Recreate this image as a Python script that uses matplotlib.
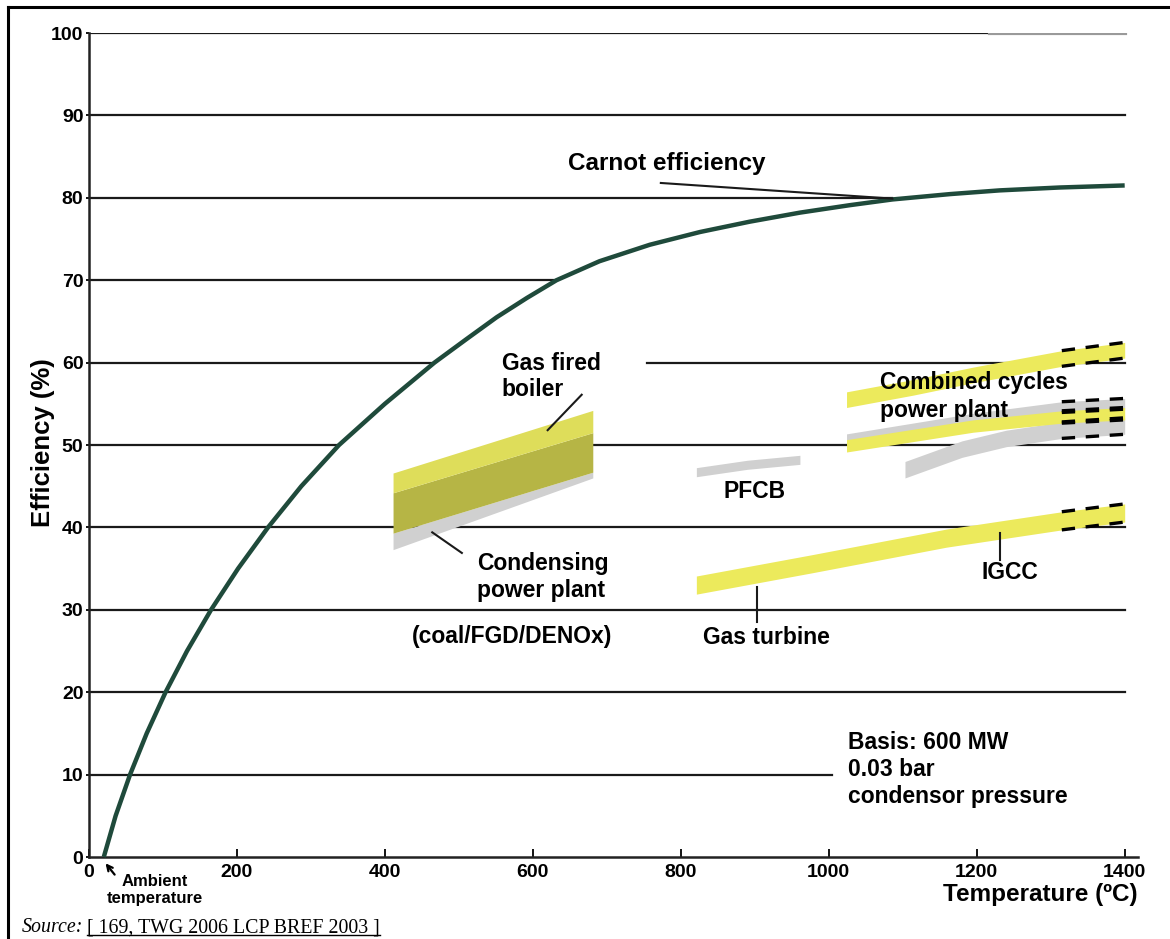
import numpy as np
import matplotlib
matplotlib.use("Agg")
import matplotlib.pyplot as plt
from matplotlib.lines import Line2D

plt.rcParams['font.family'] = ['Liberation Sans', 'DejaVu Sans']

# -----------------------------
# 1. Data
# -----------------------------
# Carnot efficiency curve (temperature in degC, efficiency in %)
carnot_temp = [20, 36, 55.5, 78, 103.5, 132.5, 165, 201.5, 242, 287, 338, 400,
               467, 511, 551, 592, 632, 690, 758, 826, 893, 961, 1028, 1086,
               1164, 1231, 1312, 1400]
carnot_eff = [0, 5, 10, 15, 20, 25, 30, 35, 40, 45, 50, 55,
              60, 62.9, 65.5, 67.85, 70, 72.3, 74.3, 75.85, 77.1, 78.2, 79.1, 79.8,
              80.45, 80.9, 81.25, 81.5]

# gas fired boiler / condensing power plant block (left and right edge)
block_temp = [411, 681]
boiler_top = [46.6, 54.2]
boiler_mid = [44.2, 51.5]
condensing_top = [39.3, 46.7]
condensing_bottom = [37.3, 46.0]

# PFCB band
pfcb_temp = [821, 890, 961]
pfcb_eff = [46.7, 47.6, 48.2]

# combined cycles power plant bands
cc_upper_temp = [1024, 1114, 1195, 1315, 1400]
cc_upper_eff = [55.5, 57.0, 58.5, 60.5, 61.5]
cc_gray_temp = [1024, 1195, 1315, 1400]
cc_gray_eff = [50.7, 53.2, 54.6, 55.0]
cc_yellow_temp = [1024, 1195, 1315, 1400]
cc_yellow_eff = [49.9, 52.3, 53.4, 53.8]
cc_low_temp = [1103, 1180, 1240, 1315, 1400]
cc_low_eff = [47.0, 49.5, 50.8, 51.8, 52.3]

# gas turbine / IGCC band
gt_temp = [821, 978, 1159, 1315, 1400]
gt_eff = [33.0, 35.6, 38.7, 40.8, 41.75]

# future (dashed) part of the bands
future_start = 1315

# horizontal reference lines: level, from, to
grid_level = [100, 90, 80, 70, 60, 60, 50, 50, 40, 30, 20, 10]
grid_from = [0, 0, 0, 0, 0, 754, 0, 681, 0, 0, 0, 0]
grid_to = [1400, 1400, 1086, 632, 467, 1400, 338, 1400, 1400, 1400, 1400, 1004]

x_ticks = [0, 200, 400, 600, 800, 1000, 1200, 1400]
y_ticks = [0, 10, 20, 30, 40, 50, 60, 70, 80, 90, 100]

YELLOW = "#ecea5c"
BOILER = "#dedd5a"
OLIVE = "#b6b545"
GRAY = "#d0d0d0"
GREEN = "#1f4a3b"
LINE = "#1a1a1a"

# -----------------------------
# 2. Figure
# -----------------------------
fig = plt.figure(figsize=(11.7, 9.39), dpi=100)
ax = fig.add_axes([89 / 1170, 1 - 857 / 939, (1138 - 89) / 1170, (857 - 33) / 939])
ax.set_xlim(0, 1418)
ax.set_ylim(0, 100)

for lev, x0, x1 in zip(grid_level, grid_from, grid_to):
    ax.plot([x0, x1], [lev, lev], color=LINE, lw=1.6, zorder=1)

# gray artifact at the top right
ax.plot([1218, 1400], [100, 100], color="#9a9a9a", lw=3, zorder=1)


def band(temp, eff, half, color, z=2):
    t = np.array(temp, dtype=float)
    e = np.array(eff, dtype=float)
    ax.fill_between(t, e - half, e + half, color=color, lw=0, zorder=z)
    # dashed edges for the future part
    m = t >= future_start
    if m.sum() >= 2:
        for sgn in (-1, 1):
            ax.plot(t[m], e[m] + sgn * half, color="black", lw=2.4,
                    dashes=(4, 3.2), zorder=4)


# boiler / condensing block
ax.fill_between(block_temp, condensing_bottom, condensing_top, color=GRAY, lw=0, zorder=2)
ax.fill_between(block_temp, condensing_top, boiler_mid, color=OLIVE, lw=0, zorder=2)
ax.fill_between(block_temp, boiler_mid, boiler_top, color=BOILER, lw=0, zorder=2)

band(pfcb_temp, pfcb_eff, 0.55, GRAY)
band(cc_low_temp, cc_low_eff, 1.0, GRAY)
band(cc_gray_temp, cc_gray_eff, 0.65, GRAY)
band(cc_yellow_temp, cc_yellow_eff, 0.75, YELLOW)
band(cc_upper_temp, cc_upper_eff, 0.95, YELLOW)
band(gt_temp, gt_eff, 1.1, YELLOW)

# Carnot curve
ax.plot(carnot_temp, carnot_eff, color=GREEN, lw=3.2, zorder=3,
        solid_capstyle="butt", solid_joinstyle="round", clip_on=False)

# -----------------------------
# 3. Labels and leaders
# -----------------------------
kw = dict(fontsize=16.5, fontweight="bold", zorder=5)
ax.text(781, 84.2, "Carnot efficiency", ha="center", va="center",
        **{**kw, "fontsize": 17.5})
ax.plot([773, 1086], [81.8, 79.9], color=LINE, lw=1.5, zorder=4)

ax.text(558, 58.3, "Gas fired\nboiler", ha="left", va="center",
        linespacing=1.15, **kw)
ax.plot([666, 620], [56.1, 51.8], color=LINE, lw=1.5, zorder=4)

ax.text(524, 34.0, "Condensing\npower plant", ha="left", va="center",
        linespacing=1.2, **kw)
ax.plot([504, 464], [36.9, 39.4], color=LINE, lw=1.5, zorder=4)
ax.text(572, 26.7, "(coal/FGD/DENOx)", ha="center", va="center", **kw)

ax.text(900, 44.3, "PFCB", ha="center", va="center", **kw)

ax.text(1069, 55.9, "Combined cycles\npower plant", ha="left", va="center",
        linespacing=1.25, **kw)

ax.text(1245, 34.5, "IGCC", ha="center", va="center", **kw)
ax.plot([1231, 1231], [39.3, 36.0], color=LINE, lw=1.5, zorder=4)

ax.text(916, 26.6, "Gas turbine", ha="center", va="center", **kw)
ax.plot([903, 903], [32.8, 28.5], color=LINE, lw=1.5, zorder=4)

ax.text(1026, 10.6, "Basis: 600 MW\n0.03 bar\ncondensor pressure",
        ha="left", va="center", linespacing=1.22, **kw)

ax.annotate("", xy=(20, -0.5), xytext=(37, -2.4), annotation_clip=False,
            arrowprops=dict(arrowstyle="->", color="black", lw=1.6))
ax.text(89, -4.0, "Ambient\ntemperature", ha="center", va="center",
        fontsize=12, fontweight="bold", linespacing=1.1, clip_on=False)

# -----------------------------
# 4. Axes styling
# -----------------------------
for side in ("top", "right"):
    ax.spines[side].set_visible(False)
for side in ("left", "bottom"):
    ax.spines[side].set_color("#222222")
    ax.spines[side].set_linewidth(1.8)

ax.set_xticks(x_ticks)
ax.set_yticks(y_ticks)
ax.set_xticklabels([str(v) for v in x_ticks], fontsize=14, fontweight="bold")
ax.set_yticklabels([str(v) for v in y_ticks], fontsize=14, fontweight="bold")
ax.tick_params(axis="x", direction="in", length=6, width=1.3, pad=5)
ax.tick_params(axis="y", direction="out", length=2, width=1.3, pad=2)

fig.text(1138 / 1170, 1 - 895 / 939, "Temperature (ºC)", ha="right", va="center",
         fontsize=17.5, fontweight="bold")
fig.text(43 / 1170, 1 - 443 / 939, "Efficiency (%)", ha="center", va="center",
         rotation=90, fontsize=18.5, fontweight="bold")

# frame around the figure (top and left edges)
fig.add_artist(Line2D([8 / 1170, 8 / 1170], [0, 1 - 7 / 939], color="black", lw=2.2))
fig.add_artist(Line2D([8 / 1170, 1], [1 - 7 / 939, 1 - 7 / 939], color="black", lw=2.2))

# source line
src1 = fig.text(22 / 1170, 1 - 932 / 939, "Source:", ha="left", va="baseline",
                fontsize=14.3, family="Liberation Serif", style="italic")
fig.canvas.draw()
r = fig.canvas.get_renderer()
bb = src1.get_window_extent(r)
src2 = fig.text(bb.x1 / fig.bbox.width + 4 / 1170, 1 - 932 / 939,
                "[ 169, TWG 2006 LCP BREF 2003 ]", ha="left", va="baseline",
                fontsize=14.3, family="Liberation Serif")
fig.canvas.draw()
bb2 = src2.get_window_extent(r)
uy = 1 - 935 / 939
fig.add_artist(Line2D([bb2.x0 / fig.bbox.width, bb2.x1 / fig.bbox.width], [uy, uy],
                      color="black", lw=1.0))

fig.savefig("out.png", dpi=100)
